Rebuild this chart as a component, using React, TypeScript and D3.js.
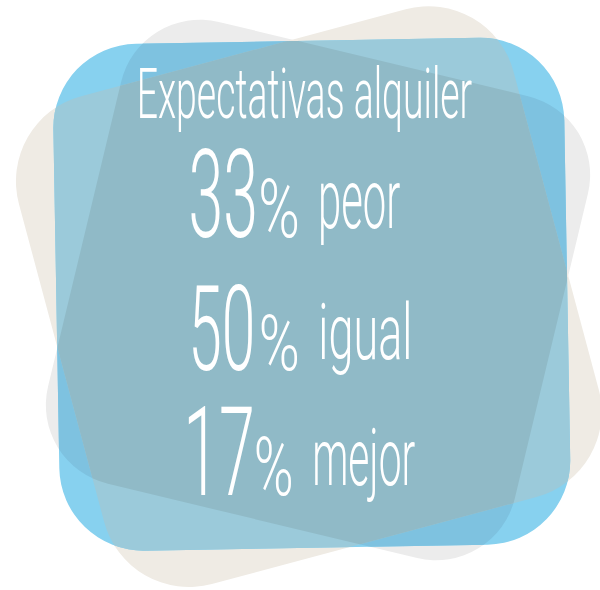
import React, { useMemo } from 'react';
import * as d3 from 'd3';

// ---- data ----
const title = "Expectativas alquiler";
const categories = ["peor", "igual", "mejor"];
const values = [33, 50, 17];

// ---- layout ----
const W = 600, H = 590;
const FONT = "Roboto";
const WEIGHT = 300;

type Box = { x0: number; x1: number; top: number; base: number };

const titleBox: Box = { x0: 140, x1: 472, top: 65, base: 118 };
const rowLayout: { num: Box; pct: Box; word: Box }[] = [
  { num: { x0: 191, x1: 254.5, top: 148, base: 237 }, pct: { x0: 261, x1: 297, top: 178, base: 237 }, word: { x0: 321, x1: 400, top: 183, base: 228 } },
  { num: { x0: 193, x1: 252, top: 283, base: 370 }, pct: { x0: 261.5, x1: 297, top: 313, base: 370 }, word: { x0: 321.5, x1: 409, top: 300, base: 359 } },
  { num: { x0: 188.5, x1: 252, top: 406, base: 495 }, pct: { x0: 256.5, x1: 291, top: 436, base: 495 }, word: { x0: 315, x1: 415, top: 427, base: 485 } },
];

const shapes = {
  beige: { cx: 308.8, cy: 296.6, w: 512, h: 505, r: 88, rot: -15 },
  gray: { cx: 318, cy: 290, w: 480, h: 475, r: 81, rot: 13.5 },
  blue: { cx: 311.8, cy: 294.2, w: 511, h: 507, r: 84, rot: -1 },
};

const colors = {
  gray: "#ececec",
  beige: "#efebe4",
  blue: "#87d1ef",
  blueGray: "#7ec2e0",
  blueBeige: "#9bcada",
  all: "#90bac7",
};

function roundedRect(w: number, h: number, r: number) {
  const p = d3.path();
  const x = -w / 2, y = -h / 2;
  p.moveTo(x + r, y);
  p.lineTo(x + w - r, y);
  p.arcTo(x + w, y, x + w, y + r, r);
  p.lineTo(x + w, y + h - r);
  p.arcTo(x + w, y + h, x + w - r, y + h, r);
  p.lineTo(x + r, y + h);
  p.arcTo(x, y + h, x, y + h - r, r);
  p.lineTo(x, y + r);
  p.arcTo(x, y, x + r, y, r);
  p.closePath();
  return p.toString();
}

function shapeProps(s: { cx: number; cy: number; w: number; h: number; r: number; rot: number }) {
  return { d: roundedRect(s.w, s.h, s.r), transform: `translate(${s.cx},${s.cy}) rotate(${s.rot})` };
}

let ctx: CanvasRenderingContext2D | null = null;
function measure(text: string) {
  if (!ctx) ctx = document.createElement('canvas').getContext('2d');
  ctx!.font = `${WEIGHT} 100px ${FONT}`;
  const m = ctx!.measureText(text);
  return { left: m.actualBoundingBoxLeft, right: m.actualBoundingBoxRight, ascent: m.actualBoundingBoxAscent };
}

function FitText({ text, box }: { text: string; box: Box }) {
  const m = measure(text);
  const inkW = m.left + m.right;
  const sx = (box.x1 - box.x0) / inkW;
  const sy = (box.base - box.top) / m.ascent;
  const tx = box.x0 + m.left * sx;
  return (
    <text
      transform={`translate(${tx},${box.base}) scale(${sx},${sy})`}
      fontFamily={FONT}
      fontWeight={WEIGHT}
      fontSize={100}
      fill="#ffffff"
    >
      {text}
    </text>
  );
}

export default function App() {
  const b = useMemo(() => shapeProps(shapes.blue), []);
  const g = useMemo(() => shapeProps(shapes.gray), []);
  const e = useMemo(() => shapeProps(shapes.beige), []);
  return (
    <svg width={W} height={H} style={{ position: 'absolute', left: 0, top: 0, background: '#fff' }}>
      <defs>
        <clipPath id="clipBlue"><path {...b} /></clipPath>
        <clipPath id="clipGray"><path {...g} /></clipPath>
      </defs>
      <path {...g} fill={colors.gray} />
      <path {...e} fill={colors.beige} />
      <path {...b} fill={colors.blue} />
      <g clipPath="url(#clipBlue)">
        <path {...g} fill={colors.blueGray} />
        <path {...e} fill={colors.blueBeige} />
        <g clipPath="url(#clipGray)">
          <path {...e} fill={colors.all} />
        </g>
      </g>
      <FitText text={title} box={titleBox} />
      {categories.map((c, i) => (
        <g key={c}>
          <FitText text={String(values[i])} box={rowLayout[i].num} />
          <FitText text="%" box={rowLayout[i].pct} />
          <FitText text={c} box={rowLayout[i].word} />
        </g>
      ))}
    </svg>
  );
}
